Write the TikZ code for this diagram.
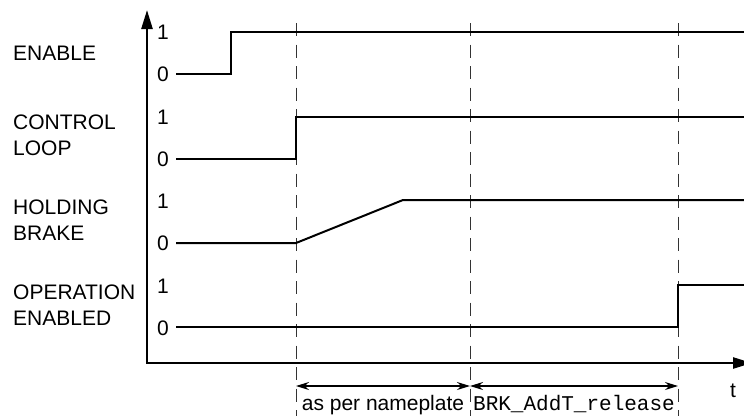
\documentclass[tikz,border=0pt]{standalone}
\usepackage{fontspec}
\setmainfont{Liberation Sans}
\setmonofont{Liberation Mono}
\usetikzlibrary{arrows.meta}

\begin{document}
\begin{tikzpicture}[
    x=1pt, y=-1pt, font=\fontsize{21}{26}\selectfont,
    axis/.style={line width=2.4pt, line join=miter,
                 {Triangle[length=19pt, width=11pt]}-{Triangle[length=19pt, width=11pt]}},
    sig/.style={line width=2pt, line join=miter},
    guide/.style={line width=0.9pt, dash pattern=on 13pt off 8.5pt, black!80},
    dim/.style={line width=1.4pt,
                {Stealth[length=13pt, width=8pt]}-{Stealth[length=13pt, width=8pt]}},
    lvl/.style={inner sep=0pt},
    sname/.style={anchor=west, align=left, inner sep=0pt},
    dlbl/.style={anchor=base, inner sep=0pt},
]
\useasboundingbox (0,0) rectangle (744,416);

% ===================== Zeitpunkte =====================
\coordinate (tA) at (296,23);
\coordinate (tB) at (470,23);
\coordinate (tC) at (678,23);

% ===================== Achsen =====================
\draw[axis] (147,10) -- (147,363) -- (752,363);
\node[dlbl] (tlbl) at (733,397) {t};

% ===================== Hilfslinien =====================
\draw[guide] (tA) -- (296,416);
\draw[guide] (tB) -- (470,416);
\draw[guide] (tC) -- (678,416);

% ===================== ENABLE =====================
\node[sname] (nEnable) at (13,53) {ENABLE};
\node[lvl] (e1) at (163,32) {1};
\node[lvl] (e0) at (163,74) {0};
\draw[sig] (176,74) -- (231,74) -- (231,32) -- (744,32);

% ===================== CONTROL LOOP =====================
\node[sname] (nLoop) at (13,135) {CONTROL\\LOOP};
\node[lvl] (c1) at (163,117) {1};
\node[lvl] (c0) at (163,159) {0};
\draw[sig] (176,159) -- (296,159) -- (296,117) -- (744,117);

% ===================== HOLDING BRAKE =====================
\node[sname] (nBrake) at (13,220) {HOLDING\\BRAKE};
\node[lvl] (h1) at (163,201) {1};
\node[lvl] (h0) at (163,243) {0};
\draw[sig] (176,243) -- (296,243) -- (403,200) -- (744,200);

% ===================== OPERATION ENABLED =====================
\node[sname] (nOpEn) at (13,305) {OPERATION\\ENABLED};
\node[lvl] (o1) at (163,286) {1};
\node[lvl] (o0) at (163,328) {0};
\draw[sig] (176,327) -- (678,327) -- (678,285) -- (744,285);

% ===================== Zeitabschnitte =====================
\coordinate (dA) at (296,386);
\coordinate (dB) at (470,386);
\coordinate (dC) at (678,386);
\draw[dim] (dA) -- (dB);
\draw[dim] (dB) -- (dC);
\node[dlbl] (lPlate) at (383,410) {as per nameplate};
\node[dlbl] (lBrk) at (574,410) {\texttt{BRK\_AddT\_release}};

\end{tikzpicture}
\end{document}
